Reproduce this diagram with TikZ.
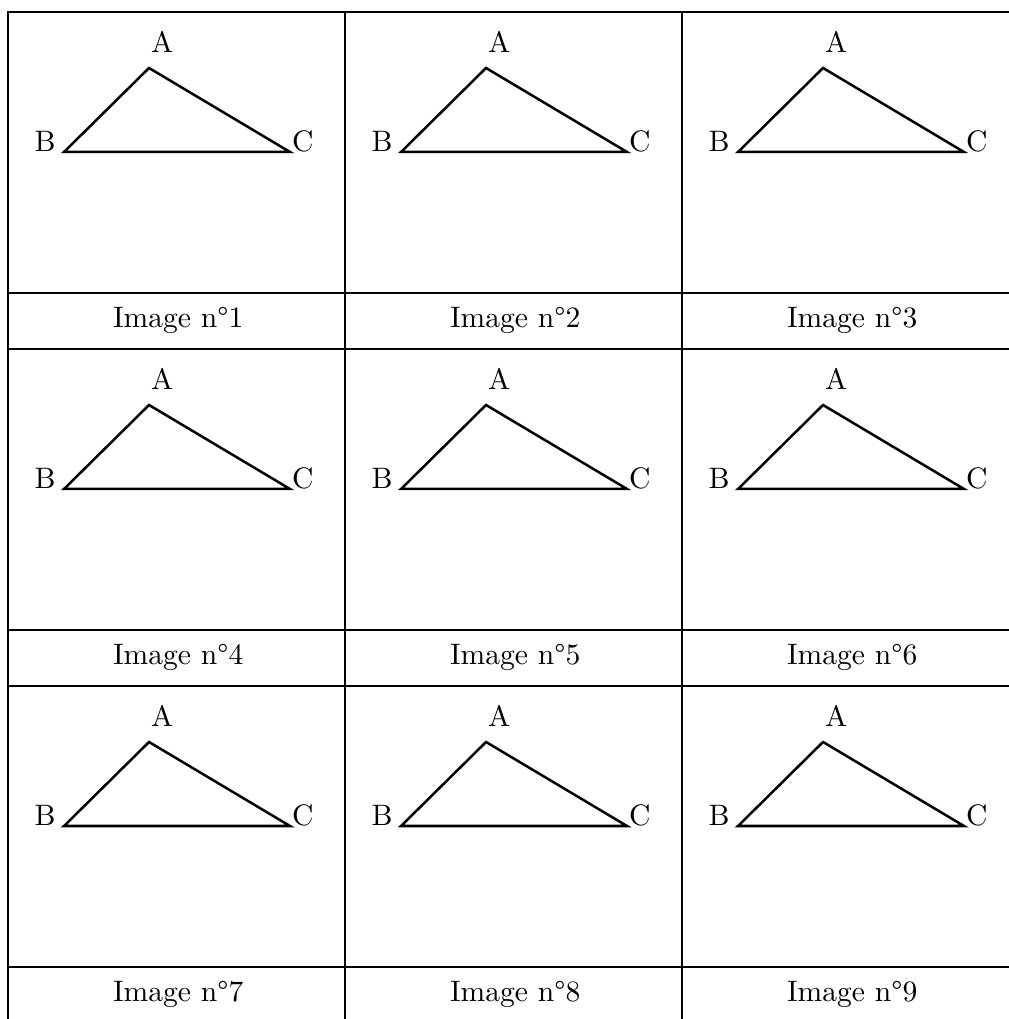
\documentclass[tikz,border=0pt]{standalone}
\usepackage{tikz}
\usetikzlibrary{positioning}

\begin{document}
\begin{tikzpicture}[
  cellbox/.style={draw, line width=0.95pt},
  tri/.style={draw, line width=0.85pt},
  vlabel/.style={anchor=base, inner sep=0pt},
  caption/.style={anchor=base, inner sep=0pt}
]
  \clip (-0.095,0.142) rectangle (11.88,-11.953);
  \foreach \row in {0,1,2} {
    \foreach \col in {0,1,2} {
      \pgfmathtruncatemacro{\n}{3*\row+\col+1}
      \begin{scope}[shift={(4*\col,-4*\row)}]
        % cell and caption strip
        \draw[cellbox] (0,0) rectangle (4,-4);
        \draw[cellbox] (0,-3.335) -- (4,-3.335);
        % triangle
        \coordinate (A\n) at (1.674,-0.665);
        \coordinate (B\n) at (0.665,-1.662);
        \coordinate (C\n) at (3.347,-1.662);
        \draw[tri] (A\n) -- (B\n) -- (C\n) -- cycle;
        \node[vlabel] (lA\n) at (1.83,-0.487) {A};
        \node[vlabel] (lB\n) at (0.44,-1.662) {B};
        \node[vlabel] (lC\n) at (3.50,-1.662) {C};
        \node[caption] (cap\n) at (2.02,-3.74) {Image n°\n};
      \end{scope}
    }
  }
\end{tikzpicture}
\end{document}
